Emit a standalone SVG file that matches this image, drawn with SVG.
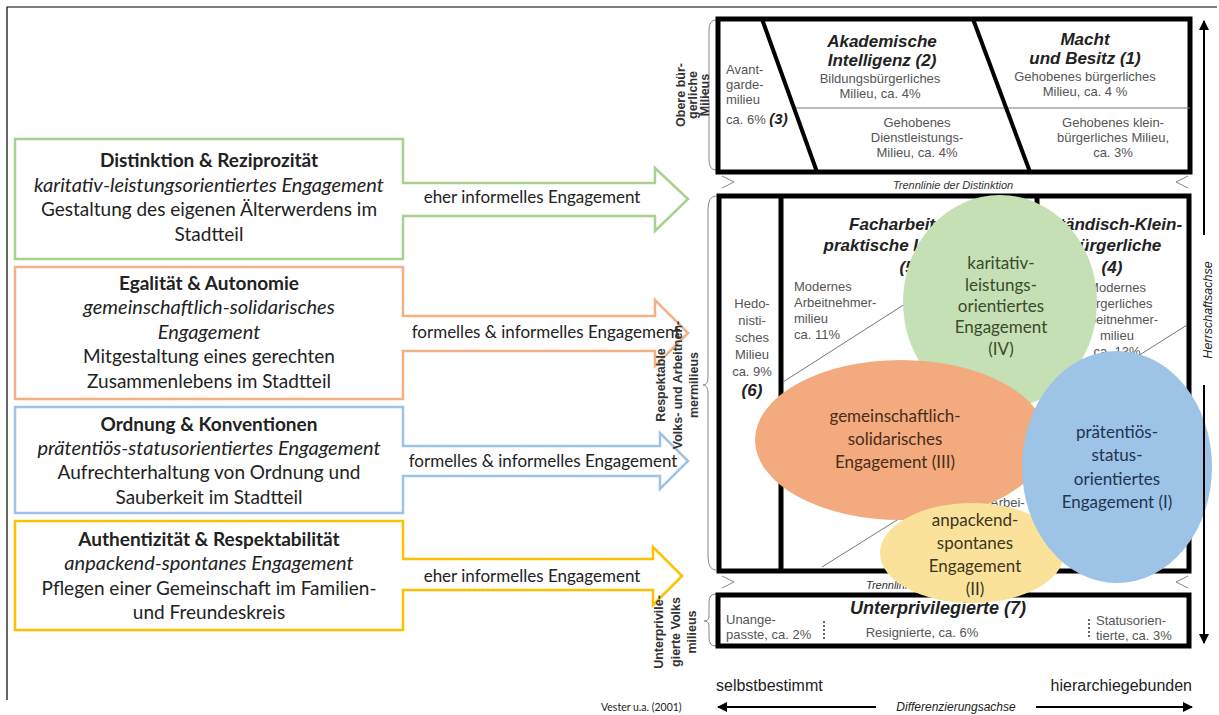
<svg xmlns="http://www.w3.org/2000/svg" width="1219" height="715" viewBox="0 0 1219 715">
<defs>
<marker id="ah" viewBox="0 0 10 10" refX="9" refY="5" markerWidth="5" markerHeight="5" orient="auto-start-reverse"><path d="M0,0 L10,5 L0,10 Z" fill="#000"/></marker>
</defs>
<style>
.lt{font-family:Lato,"Liberation Sans",sans-serif;font-size:19px;fill:#222;text-anchor:middle}
.it{font-style:italic;font-size:20px}
.ar{font-family:"Liberation Sans",Arial,sans-serif}
.sm{font-family:"Liberation Sans",Arial,sans-serif;font-size:13px;fill:#555}
.hd{font-family:"Liberation Sans",Arial,sans-serif;font-size:17px;font-weight:bold;font-style:italic;fill:#222;text-anchor:middle}
.vl{font-family:"Liberation Sans",Arial,sans-serif;font-size:12.5px;font-weight:bold;fill:#333;text-anchor:middle}
.thick{fill:none;stroke:#000;stroke-width:5}
.thin{fill:none;stroke:#777;stroke-width:1}
.brace{fill:none;stroke:#888;stroke-width:1}
.el{font-family:Lato,"Liberation Sans",sans-serif;font-size:17px;text-anchor:middle}
.call{fill:#fff;stroke-width:2.5}
.lbl{font-family:Lato,"Liberation Sans",sans-serif;font-size:17px;fill:#222;text-anchor:middle}
</style>
<rect width="1219" height="715" fill="#fff"/>
<path d="M7,700 V7 H1217" fill="none" stroke="#000" stroke-width="1.2"/>

<!-- left callouts -->
<g id="callout-distinktion">
<path class="call" stroke="#a9d18e" d="M15,139 H403 V183 H655 V168 L688,199 L655,231 V216 H403 V259 H15 Z"/>
<text class="lt" x="209" y="167" font-weight="bold">Distinktion &amp; Reziprozität</text>
<text class="lt it" x="209" y="192">karitativ-leistungsorientiertes Engagement</text>
<text class="lt" x="209" y="216">Gestaltung des eigenen Älterwerdens im</text>
<text class="lt" x="209" y="241">Stadtteil</text>
<text class="lbl" x="532" y="203">eher informelles Engagement</text>
</g>
<g id="callout-egalitaet">
<path class="call" stroke="#f4b183" d="M15,267 H403 V316 H655 V300 L688,333 L655,366 V351 H403 V399 H15 Z"/>
<text class="lt" x="209" y="290" font-weight="bold">Egalität &amp; Autonomie</text>
<text class="lt it" x="209" y="314">gemeinschaftlich-solidarisches</text>
<text class="lt it" x="209" y="339">Engagement</text>
<text class="lt" x="209" y="363">Mitgestaltung eines gerechten</text>
<text class="lt" x="209" y="388">Zusammenlebens im Stadtteil</text>
<text class="lbl" x="546" y="338">formelles &amp; informelles Engagement</text>
</g>
<g id="callout-ordnung">
<path class="call" stroke="#9dc3e6" d="M15,407 H403 V446 H660 V433 L688,461 L660,489 V476 H403 V513 H15 Z"/>
<text class="lt" x="209" y="431" font-weight="bold">Ordnung &amp; Konventionen</text>
<text class="lt it" x="209" y="455">prätentiös-statusorientiertes Engagement</text>
<text class="lt" x="209" y="479">Aufrechterhaltung von Ordnung und</text>
<text class="lt" x="209" y="504">Sauberkeit im Stadtteil</text>
<text class="lbl" x="543" y="467">formelles &amp; informelles Engagement</text>
</g>
<g id="callout-authentizitaet">
<path class="call" stroke="#ffc000" d="M15,521 H403 V559 H653 V547 L682,576 L653,605 V590 H403 V630 H15 Z"/>
<text class="lt" x="209" y="546" font-weight="bold">Authentizität &amp; Respektabilität</text>
<text class="lt it" x="209" y="570">anpackend-spontanes Engagement</text>
<text class="lt" x="209" y="595">Pflegen einer Gemeinschaft im Familien-</text>
<text class="lt" x="209" y="619">und Freundeskreis</text>
<text class="lbl" x="532" y="582">eher informelles Engagement</text>
</g>

<!-- vertical group labels -->
<g id="label-obere">
<path class="brace" d="M716,20 Q709,20 709,30 L709,87 Q709,95 704,95 Q709,95 709,103 L709,160 Q709,170 716,170"/>
<g transform="translate(685,95) rotate(-90)"><text class="vl" x="0" y="0">Obere bür-</text></g>
<g transform="translate(697,95) rotate(-90)"><text class="vl" x="0" y="0">gerliche</text></g>
<g transform="translate(709,95) rotate(-90)"><text class="vl" x="0" y="0">Milieus</text></g>
</g>
<g id="label-respektable">
<path class="brace" d="M716,196 Q708,196 708,210 L708,377 Q708,385 703,385 Q708,385 708,393 L708,556 Q708,570 716,570"/>
<g transform="translate(665,385) rotate(-90)"><text class="vl" x="0" y="0">Respektable</text></g>
<g transform="translate(682,385) rotate(-90)"><text class="vl" x="0" y="0">Volks- und Arbeitneh-</text></g>
<g transform="translate(698,385) rotate(-90)"><text class="vl" x="0" y="0">mermilieus</text></g>
</g>
<g id="label-unterprivilegierte">
<path class="brace" d="M716,594 Q709,594 709,602 L709,616 Q709,621 704,621 Q709,621 709,626 L709,638 Q709,646 716,646"/>
<g transform="translate(663,632) rotate(-90)"><text class="vl" x="0" y="0">Unterprivile-</text></g>
<g transform="translate(680,632) rotate(-90)"><text class="vl" x="0" y="0">gierte Volks</text></g>
<g transform="translate(696,632) rotate(-90)"><text class="vl" x="0" y="0">milieus</text></g>
</g>

<!-- top box -->
<g id="obere-milieus">
<rect class="thick" x="718" y="19" width="472" height="153"/>
<line class="thin" x1="793" y1="108" x2="1190" y2="108"/>
<line stroke="#000" stroke-width="4" x1="762" y1="19" x2="817" y2="172"/>
<line stroke="#000" stroke-width="4" x1="973" y1="19" x2="1030" y2="172"/>
<text class="hd" x="882" y="47">Akademische</text>
<text class="hd" x="882" y="66">Intelligenz (2)</text>
<text class="sm" x="880" y="83" text-anchor="middle">Bildungsbürgerliches</text>
<text class="sm" x="880" y="98" text-anchor="middle">Milieu, ca. 4%</text>
<text class="sm" x="726" y="74">Avant-</text>
<text class="sm" x="726" y="89">garde-</text>
<text class="sm" x="726" y="104">milieu</text>
<text class="sm" x="726" y="124">ca. 6% <tspan style="font-weight:bold;font-style:italic;fill:#222;font-size:15px">(3)</tspan></text>
<text class="sm" x="917" y="127" text-anchor="middle">Gehobenes</text>
<text class="sm" x="917" y="142" text-anchor="middle">Dienstleistungs-</text>
<text class="sm" x="917" y="157" text-anchor="middle">Milieu, ca. 4%</text>
<text class="hd" x="1085" y="45">Macht</text>
<text class="hd" x="1085" y="64">und Besitz (1)</text>
<text class="sm" x="1085" y="81" text-anchor="middle">Gehobenes bürgerliches</text>
<text class="sm" x="1085" y="96" text-anchor="middle">Milieu, ca. 4 %</text>
<text class="sm" x="1113" y="127" text-anchor="middle">Gehobenes klein-</text>
<text class="sm" x="1113" y="142" text-anchor="middle">bürgerliches Milieu,</text>
<text class="sm" x="1113" y="157" text-anchor="middle">ca. 3%</text>
</g>

<!-- Trennlinie der Distinktion -->
<g id="trennlinie-distinktion">
<path class="brace" d="M722,176 L734,182 L722,188"/>
<path class="brace" d="M1188,176 L1176,182 L1188,188"/>
<text class="ar" x="953" y="189" font-size="11" font-style="italic" fill="#333" text-anchor="middle">Trennlinie der Distinktion</text>
</g>

<!-- middle box -->
<g id="respektable-milieus">
<rect class="thick" x="719" y="196" width="470" height="375"/>
<line stroke="#000" stroke-width="5" x1="781" y1="196" x2="781" y2="571"/>
<line stroke="#000" stroke-width="5" x1="1037" y1="196" x2="1037" y2="215"/>
<line class="thin" x1="783" y1="382" x2="930" y2="288"/>
<line class="thin" x1="1187" y1="325" x2="1100" y2="380"/>
<line class="thin" x1="822" y1="567" x2="905" y2="515"/>
<text class="sm" x="752" y="308" text-anchor="middle">Hedo-</text>
<text class="sm" x="752" y="325" text-anchor="middle">nisti-</text>
<text class="sm" x="752" y="342" text-anchor="middle">sches</text>
<text class="sm" x="752" y="359" text-anchor="middle">Milieu</text>
<text class="sm" x="752" y="376" text-anchor="middle">ca. 9%</text>
<text class="hd" x="752" y="396">(6)</text>
<text class="hd" x="910" y="230">Facharbeit und</text>
<text class="hd" x="910" y="251">praktische Intelligenz</text>
<text class="hd" x="910" y="273">(5)</text>
<text class="sm" x="794" y="291">Modernes</text>
<text class="sm" x="794" y="307">Arbeitnehmer-</text>
<text class="sm" x="794" y="323">milieu</text>
<text class="sm" x="794" y="339">ca. 11%</text>
<text class="hd" x="1115" y="230">Ständisch-Klein-</text>
<text class="hd" x="1115" y="251">bürgerliche</text>
<text class="hd" x="1112" y="273">(4)</text>
<text class="sm" x="1117" y="292" text-anchor="middle">Modernes</text>
<text class="sm" x="1117" y="308" text-anchor="middle">bürgerliches</text>
<text class="sm" x="1117" y="324" text-anchor="middle">Arbeitnehmer-</text>
<text class="sm" x="1117" y="340" text-anchor="middle">milieu</text>
<text class="sm" x="1117" y="356" text-anchor="middle">ca. 13%</text>
<text class="sm" x="990" y="507">Arbei-</text>
</g>

<!-- Trennlinie lower -->
<g id="trennlinie-respektabilitaet">
<path class="brace" d="M722,576 L734,582 L722,588"/>
<path class="brace" d="M1188,576 L1176,582 L1188,588"/>
<text class="ar" x="866" y="589" font-size="11" font-style="italic" fill="#333">Trennlinie</text>
</g>

<!-- bottom box -->
<g id="unterprivilegierte">
<rect class="thick" x="718" y="595" width="471" height="51"/>
<text class="hd" x="938" y="614" style="font-size:18px">Unterprivilegierte (7)</text>
<text class="sm" x="726" y="624">Unange-</text>
<text class="sm" x="726" y="639">passte, ca. 2%</text>
<line x1="824" y1="621" x2="824" y2="641" stroke="#333" stroke-width="1.5" stroke-dasharray="2,2"/>
<text class="sm" x="922" y="637" text-anchor="middle">Resignierte, ca. 6%</text>
<line x1="1089" y1="619" x2="1089" y2="639" stroke="#333" stroke-width="1.5" stroke-dasharray="2,2"/>
<text class="sm" x="1096" y="625">Statusorien-</text>
<text class="sm" x="1096" y="640">tierte, ca. 3%</text>
</g>

<!-- engagement ellipses -->
<g id="ellipse-karitativ">
<ellipse cx="1000" cy="302" rx="97" ry="107" fill="#c5e0b4"/>
<text class="el" fill="#3a4a2c" x="1001" y="269">karitativ-</text>
<text class="el" fill="#3a4a2c" x="1001" y="291">leistungs-</text>
<text class="el" fill="#3a4a2c" x="1001" y="312">orientiertes</text>
<text class="el" fill="#3a4a2c" x="1001" y="333">Engagement</text>
<text class="el" fill="#3a4a2c" x="1001" y="355">(IV)</text>
</g>
<g id="ellipse-gemeinschaftlich">
<ellipse cx="901" cy="440" rx="146" ry="80" fill="#f2aa7e"/>
<text class="el" fill="#4a2c18" x="895" y="422">gemeinschaftlich-</text>
<text class="el" fill="#4a2c18" x="895" y="445">solidarisches</text>
<text class="el" fill="#4a2c18" x="895" y="468">Engagement (III)</text>
</g>
<g id="ellipse-anpackend">
<ellipse cx="972" cy="553" rx="92" ry="50" fill="#fbe29a"/>
<text class="el" fill="#3d3620" x="975" y="526">anpackend-</text>
<text class="el" fill="#3d3620" x="975" y="549">spontanes</text>
<text class="el" fill="#3d3620" x="975" y="572">Engagement</text>
<text class="el" fill="#3d3620" x="975" y="595">(II)</text>
</g>
<g id="ellipse-praetentioes">
<ellipse cx="1117" cy="467" rx="95" ry="116" fill="#9dc3e6"/>
<text class="el" fill="#1f3550" x="1117" y="438">prätentiös-</text>
<text class="el" fill="#1f3550" x="1117" y="461">status-</text>
<text class="el" fill="#1f3550" x="1117" y="485">orientiertes</text>
<text class="el" fill="#1f3550" x="1117" y="508">Engagement (I)</text>
</g>

<!-- axes -->
<g id="axes">
<line x1="1204" y1="21" x2="1204" y2="235" stroke="#000" stroke-width="2" marker-start="url(#ah)"/>
<line x1="1204" y1="385" x2="1204" y2="643" stroke="#000" stroke-width="2" marker-end="url(#ah)"/>
<g transform="translate(1212,310) rotate(-90)"><text class="ar" x="0" y="0" font-size="12.5" font-style="italic" fill="#222" text-anchor="middle">Herrschaftsachse</text></g>
<line x1="718" y1="707" x2="876" y2="707" stroke="#000" stroke-width="2" marker-start="url(#ah)"/>
<line x1="1036" y1="707" x2="1192" y2="707" stroke="#000" stroke-width="2" marker-end="url(#ah)"/>
<text class="ar" x="956" y="711" font-size="12" font-style="italic" fill="#222" text-anchor="middle">Differenzierungsachse</text>
<text class="ar" x="716" y="691" font-size="16" fill="#222">selbstbestimmt</text>
<text class="ar" x="1192" y="691" font-size="16" fill="#222" text-anchor="end">hierarchiegebunden</text>
<text x="601" y="711" font-family="Lato,'Liberation Sans',sans-serif" font-size="10.5" fill="#222">Vester u.a. (2001)</text>
</g>
</svg>
